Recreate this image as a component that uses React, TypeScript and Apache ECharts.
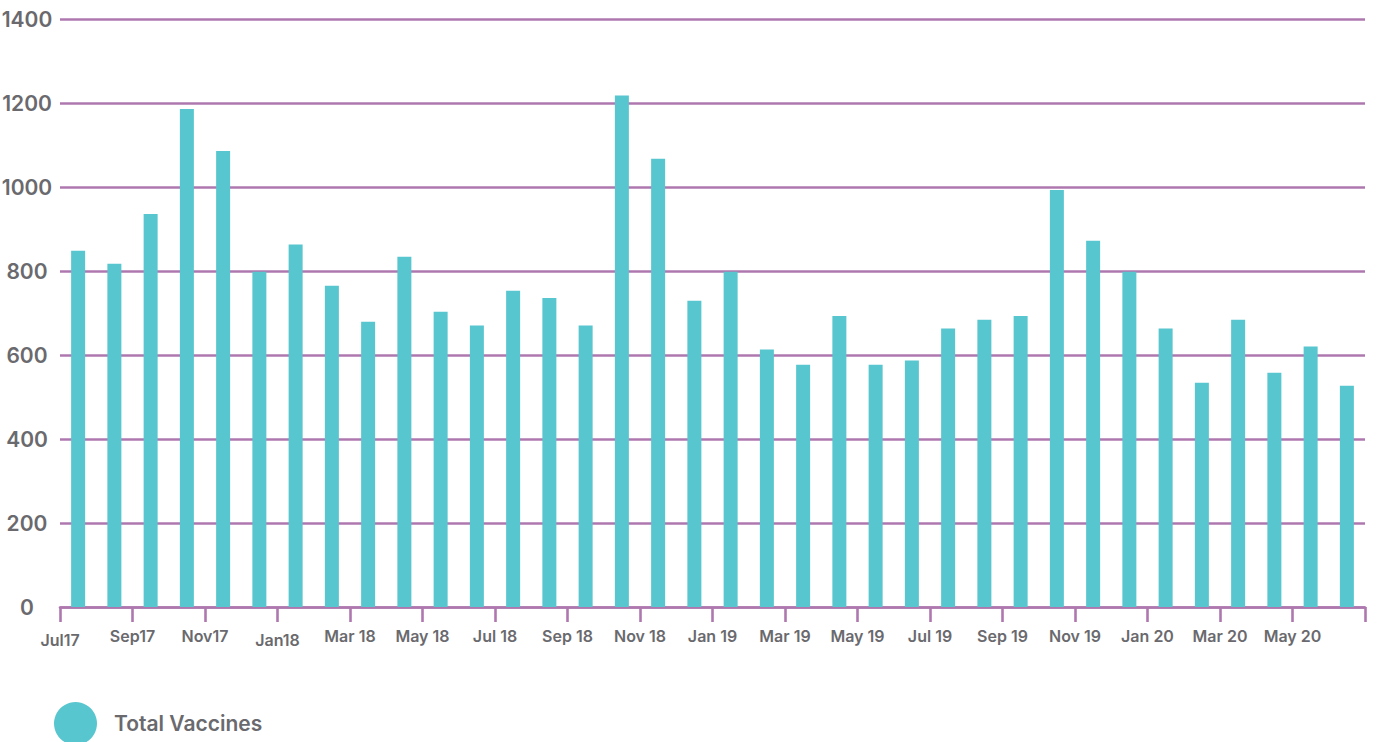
import React, { useEffect, useRef } from "react";
import * as echarts from "echarts";

// Monthly totals, Jul 2017 – Jun 2020
const months = [
  "Jul17", "Aug17", "Sep17", "Oct17", "Nov17", "Dec17",
  "Jan18", "Feb18", "Mar18", "Apr18", "May18", "Jun18",
  "Jul18", "Aug18", "Sep18", "Oct18", "Nov18", "Dec18",
  "Jan19", "Feb19", "Mar19", "Apr19", "May19", "Jun19",
  "Jul19", "Aug19", "Sep19", "Oct19", "Nov19", "Dec19",
  "Jan20", "Feb20", "Mar20", "Apr20", "May20", "Jun20",
];

const totalVaccines = [
  848, 817, 936, 1186, 1086, 798,
  863, 765, 679, 834, 703, 670,
  753, 736, 670, 1218, 1067, 729,
  798, 613, 577, 693, 577, 587,
  663, 684, 693, 993, 872, 798,
  663, 534, 684, 558, 620, 527,
];

// Tick labels sit on every other month boundary
const tickLabels = [
  "Jul17", "Sep17", "Nov17", "Jan18", "Mar 18", "May 18",
  "Jul 18", "Sep 18", "Nov 18", "Jan 19", "Mar 19", "May 19",
  "Jul 19", "Sep 19", "Nov 19", "Jan 20", "Mar 20", "May 20", "",
];

const yTicks = { min: 0, max: 1400, interval: 200 };

const BAR = "#58C6CF";
const PURPLE = "#AE78AF";
const TEXT = "#6A6A6E";
const FONT = "Inter, 'Liberation Sans', sans-serif";

export default function App() {
  const ref = useRef<HTMLDivElement>(null);

  useEffect(() => {
    if (!ref.current) return;
    const chart = echarts.init(ref.current, null, { renderer: "svg" });
    const lowered = new Set([0, 3]);
    chart.setOption({
      animation: false,
      textStyle: { fontFamily: FONT },
      grid: {
        left: 60,
        right: 14,
        top: 19,
        bottom: 135,
        containLabel: false,
        outerBoundsMode: "none",
      },
      legend: {
        left: 49,
        top: 697,
        padding: 5,
        icon: "circle",
        itemWidth: 43,
        itemHeight: 43,
        itemGap: 20,
        selectedMode: false,
        textStyle: {
          color: TEXT,
          fontFamily: FONT,
          fontSize: 21,
          fontWeight: 600,
          padding: [6, 0, 0, 12],
        },
        data: [{ name: "Total Vaccines", itemStyle: { color: BAR } }],
      },
      xAxis: [
        {
          type: "category",
          data: months,
          boundaryGap: true,
          show: false,
        },
        {
          type: "category",
          data: tickLabels,
          boundaryGap: false,
          position: "bottom",
          axisLine: { show: true, lineStyle: { color: PURPLE, width: 2.6 } },
          axisTick: {
            show: true,
            length: 15,
            interval: 0,
            lineStyle: { color: PURPLE, width: 2.6 },
          },
          axisLabel: {
            interval: 0,
            margin: 21,
            color: TEXT,
            fontFamily: FONT,
            fontSize: 16,
            fontWeight: 600,
            lineHeight: 16,
            formatter: (v: string, i: number) =>
              lowered.has(i) ? `{low|${v}}` : v,
            rich: {
              low: {
                color: TEXT,
                fontFamily: FONT,
                fontSize: 16,
                fontWeight: 600,
                lineHeight: 16,
                padding: [7, 0, 0, 0],
              },
            },
          },
          splitLine: { show: false },
        },
      ],
      yAxis: {
        type: "value",
        min: yTicks.min,
        max: yTicks.max,
        interval: yTicks.interval,
        axisLine: { show: false },
        axisTick: { show: false },
        axisLabel: {
          color: TEXT,
          fontFamily: FONT,
          fontSize: 21,
          fontWeight: 600,
          align: "center",
          margin: 33,
          formatter: (v: number) => String(v),
        },
        splitLine: { show: true, lineStyle: { color: PURPLE, width: 2.6 } },
      },
      series: [
        {
          name: "Total Vaccines",
          type: "bar",
          xAxisIndex: 0,
          data: totalVaccines,
          barWidth: 14,
          itemStyle: { color: BAR },
        },
      ],
    });
    return () => chart.dispose();
  }, []);

  return (
    <div
      ref={ref}
      style={{
        position: "fixed",
        left: 0,
        top: 0,
        width: 1379,
        height: 742,
        background: "#fff",
      }}
    />
  );
}
